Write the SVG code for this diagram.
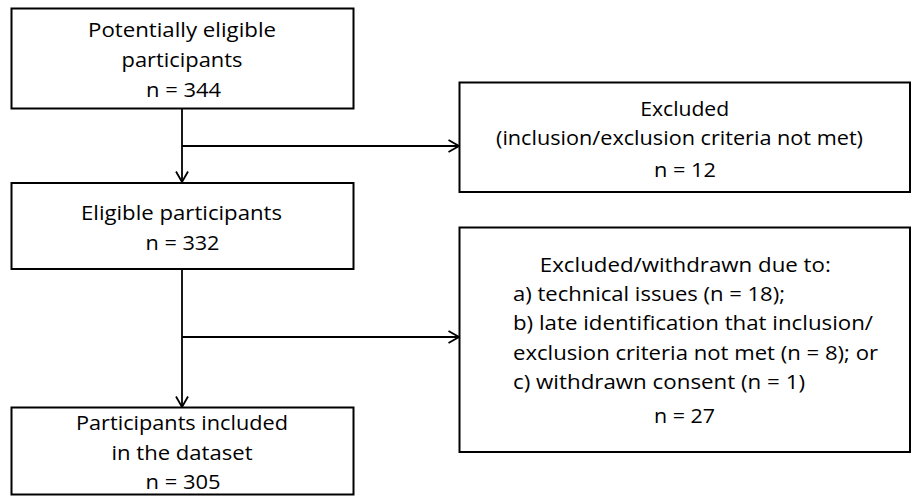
<svg xmlns="http://www.w3.org/2000/svg" width="912" height="496" viewBox="0 0 912 496">
<style>
.box{fill:#fff;stroke:#000;stroke-width:2}
.t{font-family:"Open Sans","Liberation Sans",Arial,sans-serif;font-size:20px;fill:#000}
.c{text-anchor:middle}
.ln{fill:none;stroke:#000;stroke-width:1.8}
</style>
<defs>
<marker id="arr" viewBox="0 0 12 14" refX="11.5" refY="7" markerWidth="12" markerHeight="14" markerUnits="userSpaceOnUse" orient="auto">
<path d="M1,1 L11.5,7 L1,13" fill="none" stroke="#000" stroke-width="1.8"/>
</marker>
</defs>
<rect width="912" height="496" fill="#fff"/>
<g id="connectors">
<line class="ln" x1="182" y1="109" x2="182" y2="182" marker-end="url(#arr)"/>
<line class="ln" x1="182" y1="146" x2="459" y2="146" marker-end="url(#arr)"/>
<line class="ln" x1="182" y1="269" x2="182" y2="407" marker-end="url(#arr)"/>
<line class="ln" x1="182" y1="337" x2="459" y2="337" marker-end="url(#arr)"/>
</g>
<g id="n1">
<rect class="box" x="11.5" y="8.5" width="342" height="100"/>
<text class="t c" x="182" y="36.7" textLength="188" lengthAdjust="spacingAndGlyphs">Potentially eligible</text>
<text class="t c" x="182" y="66.7" textLength="121" lengthAdjust="spacingAndGlyphs">participants</text>
<text class="t c" x="183.5" y="97.3" textLength="75" lengthAdjust="spacingAndGlyphs">n = 344</text>
</g>
<g id="n2">
<rect class="box" x="11.5" y="183" width="342" height="86"/>
<text class="t c" x="181.5" y="220" textLength="201" lengthAdjust="spacingAndGlyphs">Eligible participants</text>
<text class="t c" x="182.5" y="250" textLength="74" lengthAdjust="spacingAndGlyphs">n = 332</text>
</g>
<g id="n3">
<rect class="box" x="11.5" y="407.5" width="342" height="87"/>
<text class="t c" x="182" y="430" textLength="212" lengthAdjust="spacingAndGlyphs">Participants included</text>
<text class="t c" x="182" y="460" textLength="141" lengthAdjust="spacingAndGlyphs">in the dataset</text>
<text class="t c" x="183" y="489" textLength="75" lengthAdjust="spacingAndGlyphs">n = 305</text>
</g>
<g id="n4">
<rect class="box" x="459.5" y="82.5" width="450.5" height="109.5"/>
<text class="t c" x="684.7" y="115.7" textLength="89" lengthAdjust="spacingAndGlyphs">Excluded</text>
<text class="t c" x="679.5" y="145" textLength="367" lengthAdjust="spacingAndGlyphs">(inclusion/exclusion criteria not met)</text>
<text class="t c" x="685" y="176.7" textLength="62" lengthAdjust="spacingAndGlyphs">n = 12</text>
</g>
<g id="n5">
<rect class="box" x="459.5" y="227.5" width="450.5" height="224.5"/>
<text class="t c" x="685.3" y="271.7" textLength="291" lengthAdjust="spacingAndGlyphs">Excluded/withdrawn due to:</text>
<text class="t" x="513" y="300.7" textLength="272" lengthAdjust="spacingAndGlyphs">a) technical issues (n = 18);</text>
<text class="t" x="513" y="330" textLength="360" lengthAdjust="spacingAndGlyphs">b) late identification that inclusion/</text>
<text class="t" x="513" y="360" textLength="365" lengthAdjust="spacingAndGlyphs">exclusion criteria not met (n = 8); or</text>
<text class="t" x="513" y="389" textLength="292" lengthAdjust="spacingAndGlyphs">c) withdrawn consent (n = 1)</text>
<text class="t c" x="684.5" y="423" textLength="61" lengthAdjust="spacingAndGlyphs">n = 27</text>
</g>
</svg>
